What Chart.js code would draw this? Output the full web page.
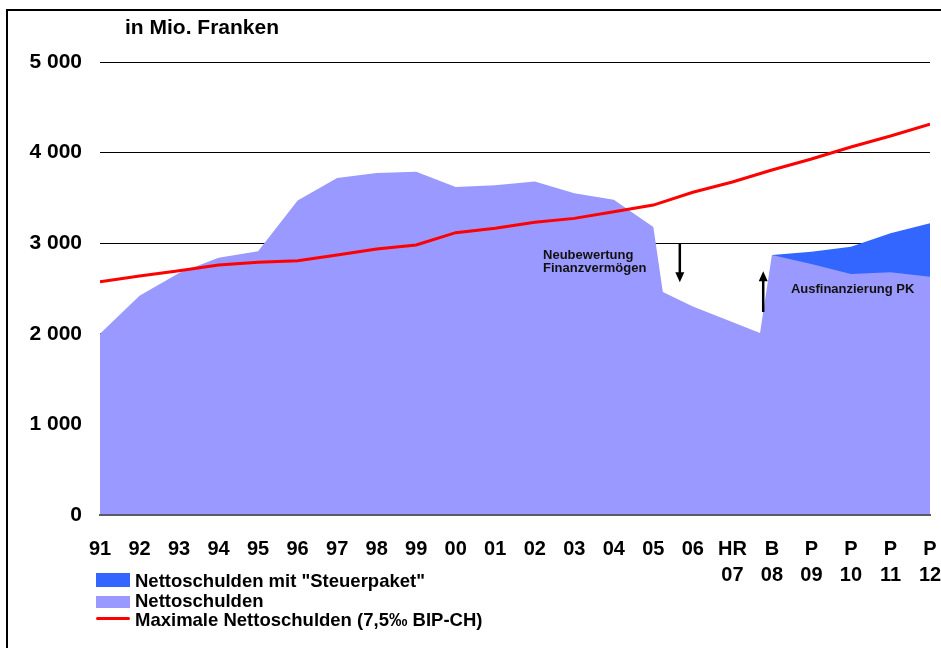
<!DOCTYPE html>
<html>
<head>
<meta charset="utf-8">
<title>Nettoschulden</title>
<script src="https://cdn.jsdelivr.net/npm/chart.js@4"></script>
<style>
  body { margin: 0; background: #fff; font-family: "Liberation Sans", Arial, sans-serif; }
  #wrap { position: relative; width: 941px; height: 648px; overflow: hidden; background: #fff; }
  #rahmen { position: absolute; left: 6px; top: 9px; width: 1000px; height: 700px; border: 2px solid #000; }
  #grafik { position: absolute; left: 0; top: 0; }
  #einheit { position: absolute; left: 125px; top: 16px; font-size: 21px; line-height: 21px; font-weight: bold; color: #000; }
  .leg-text { position: absolute; left: 135px; font-size: 18.5px; line-height: 20px; font-weight: bold; color: #000; white-space: nowrap; }
  .leg-box { position: absolute; left: 96px; width: 34px; }
</style>
</head>
<body>
<div id="wrap">
  <div id="rahmen"></div>
  <canvas id="grafik" width="941" height="648"></canvas>
  <div id="einheit">in Mio. Franken</div>

  <!-- Legende -->
  <div class="leg-box" style="top:573px;height:14px;background:#3366ff"></div>
  <div class="leg-text" style="top:570.5px">Nettoschulden mit "Steuerpaket"</div>
  <div class="leg-box" style="top:596px;height:12px;background:#9999ff"></div>
  <div class="leg-text" style="top:590.5px">Nettoschulden</div>
  <div class="leg-box" style="top:617px;height:3px;background:#ff0000;border-radius:2px"></div>
  <div class="leg-text" style="top:610px">Maximale Nettoschulden (7,5‰ BIP-CH)</div>
</div>

<script>
// Kategorien der x-Achse (mehrzeilig ab 07)
const kategorien = [
  "91", "92", "93", "94", "95", "96", "97", "98", "99", "00", "01",
  "02", "03", "04", "05", "06",
  ["HR", "07"], ["B", "08"], ["P", "09"], ["P", "10"], ["P", "11"], ["P", "12"]
];

// Nettoschulden (Position auf der Achse + Wert), Knick nach 05 und vor 08
const nettoPos = [0, 1, 2, 3, 4, 5, 6, 7, 8, 9, 10, 11, 12, 13, 14, 14.24, 15, 16.7, 17, 18, 19, 20, 21];
const nettoWerte = [2000, 2420, 2670, 2840, 2910, 3470, 3720, 3775, 3790, 3620, 3640, 3680, 3550, 3480, 3180,
  2460, 2300, 2010, 2870, 2770, 2660, 2680, 2630];

// Nettoschulden mit "Steuerpaket" (ab B 08)
const steuerPos = [17, 18, 19, 20, 21];
const steuerWerte = [2870, 2905, 2960, 3110, 3220];

// Maximale Nettoschulden (7,5‰ BIP-CH)
const maxWerte = [2575, 2638, 2697, 2759, 2789, 2807, 2870, 2936, 2980, 3116, 3164,
  3230, 3274, 3347, 3421, 3562, 3675, 3808, 3929, 4062, 4183, 4315];

// y-Achse
const yTicks = [0, 1000, 2000, 3000, 4000, 5000];

const punkte = (pos, werte) => werte.map((w, i) => ({ x: pos[i], y: w }));

// Pfeile und Hinweistexte
function pfeil(ctx, px, yVon, yBis) {
  const dir = yBis > yVon ? 1 : -1;
  ctx.beginPath();
  ctx.moveTo(px, yVon);
  ctx.lineTo(px, yBis - dir * 8);
  ctx.stroke();
  ctx.beginPath();
  ctx.moveTo(px - 4.5, yBis - dir * 10);
  ctx.lineTo(px + 4.5, yBis - dir * 10);
  ctx.lineTo(px, yBis);
  ctx.closePath();
  ctx.fill();
}

const hinweise = {
  id: "hinweise",
  afterDraw(chart) {
    const { ctx } = chart;
    const x = chart.scales.x;
    const y = chart.scales.y;
    ctx.save();
    ctx.strokeStyle = "#000";
    ctx.fillStyle = "#000";
    ctx.lineWidth = 2.5;
    pfeil(ctx, x.getPixelForValue(14.67), y.getPixelForValue(3000), y.getPixelForValue(2570));
    pfeil(ctx, x.getPixelForValue(16.78), y.getPixelForValue(2240), y.getPixelForValue(2690));

    ctx.fillStyle = "#111";
    ctx.font = 'bold 13px "Liberation Sans", Arial, sans-serif';
    ctx.textAlign = "left";
    ctx.textBaseline = "alphabetic";
    ctx.fillText("Neubewertung", x.getPixelForValue(11.21), y.getPixelForValue(2831));
    ctx.fillText("Finanzvermögen", x.getPixelForValue(11.21), y.getPixelForValue(2682));
    ctx.fillText("Ausfinanzierung PK", x.getPixelForValue(17.48), y.getPixelForValue(2450));
    ctx.restore();
  }
};

Chart.defaults.font.family = '"Liberation Sans", Arial, sans-serif';
Chart.defaults.color = "#000";

new Chart(document.getElementById("grafik"), {
  type: "line",
  data: {
    datasets: [
      {
        label: "Maximale Nettoschulden (7,5‰ BIP-CH)",
        data: punkte(maxWerte.map((_, i) => i), maxWerte),
        borderColor: "#ff0000",
        borderWidth: 3,
        pointRadius: 0,
        fill: false
      },
      {
        label: "Nettoschulden",
        data: punkte(nettoPos, nettoWerte),
        borderWidth: 0,
        borderColor: "rgba(0,0,0,0)",
        backgroundColor: "#9999ff",
        pointRadius: 0,
        fill: "origin"
      },
      {
        label: 'Nettoschulden mit "Steuerpaket"',
        data: punkte(steuerPos, steuerWerte),
        borderWidth: 0,
        borderColor: "rgba(0,0,0,0)",
        backgroundColor: "#3366ff",
        pointRadius: 0,
        fill: "origin"
      }
    ]
  },
  options: {
    responsive: false,
    animation: false,
    layout: { padding: { top: 62, right: 0, left: 0, bottom: 0 } },
    plugins: {
      legend: { display: false },
      tooltip: { enabled: false }
    },
    scales: {
      x: {
        type: "linear",
        min: 0,
        max: kategorien.length - 1,
        afterBuildTicks: (s) => { s.ticks = kategorien.map((_, i) => ({ value: i })); },
        afterFit: (s) => { s.height = 133; s.paddingLeft = 0; s.paddingRight = 11; },
        grid: { display: false, drawTicks: false },
        border: { display: true, color: "#5a5a66", width: 2, z: 1 },
        ticks: {
          autoSkip: false,
          maxRotation: 0,
          padding: 21,
          font: { size: 20, weight: "bold", lineHeight: 1.3 },
          callback: (v) => kategorien[v]
        }
      },
      y: {
        min: 0,
        max: 5000,
        afterBuildTicks: (s) => { s.ticks = yTicks.map((v) => ({ value: v })); },
        afterFit: (s) => { s.width = 100; },
        grid: { color: "#000", lineWidth: 1, drawTicks: false },
        border: { display: false },
        ticks: {
          padding: 18,
          font: { size: 21, weight: "bold" },
          callback: (v) => v.toLocaleString("de-CH").replace(/[’']/g, " ")
        }
      }
    }
  },
  plugins: [hinweise]
});
</script>
</body>
</html>
